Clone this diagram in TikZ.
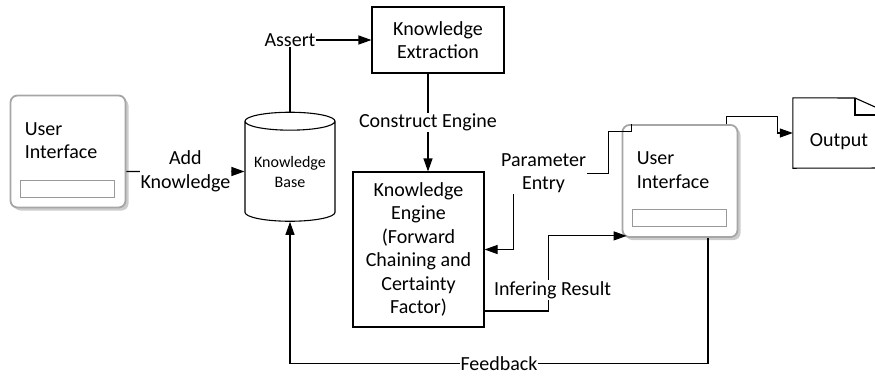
\documentclass[tikz,border=0pt]{standalone}
\usepackage{fontspec}
\setmainfont{Carlito}
\usetikzlibrary{shapes.geometric,shadows,arrows.meta}

\begin{document}
\begin{tikzpicture}[x=1pt,y=-1pt,
  lineDecorate/.style={-{Triangle[length=13pt,width=9pt]},line width=1.1pt},
  plainDecorate/.style={line width=1.1pt},
  boxDecorate/.style={shape=rectangle,draw,line width=1.1pt,align=center,
    font=\fontsize{20}{23.5}\selectfont},
  uiDecorate/.style={shape=rectangle,draw=black!35,line width=1.8pt,
    rounded corners=7pt,fill=white,minimum width=115pt,minimum height=112pt,
    drop shadow={shadow xshift=3pt,shadow yshift=-3pt,fill=black!20,opacity=1}},
  barDecorate/.style={shape=rectangle,draw=black!40,line width=0.8pt,
    minimum width=94pt,minimum height=17pt,inner sep=0pt},
  labelDecorate/.style={fill=white,inner sep=1pt,align=center,
    font=\fontsize{20}{23.5}\selectfont}]
\useasboundingbox (0,0) rectangle (875,376);
%% user interface boxes
\foreach \uiname/\x/\y in {uiL/68/151.5, uiR/680/181}
{
  \node (\uiname) at (\x,\y) [uiDecorate] {};
  \node (\uiname-text) at ([xshift=15pt,yshift=-64pt]\uiname.north west)
    [anchor=base west,align=left,inner sep=0pt,
     font=\fontsize{20}{23.5}\selectfont] {User\\Interface};
  \node (\uiname-bar) at ([xshift=10pt,yshift=-85pt]\uiname.north west)
    [barDecorate,anchor=north west] {};
}
%% knowledge base, extraction and engine
\node (kb) at (290,171.5) [shape=cylinder,shape border rotate=90,draw,
  line width=1.1pt,aspect=0.25,minimum width=90pt,minimum height=109pt,
  align=center,inner sep=0pt,font=\fontsize{16}{20}\selectfont] {Knowledge\\Base};
\node (kx) at (438,40) [boxDecorate,minimum width=132pt,minimum height=66pt]
  {Knowledge\\Extraction};
\node (ke) at (418.5,249.5) [boxDecorate,minimum width=131pt,minimum height=155pt]
  {Knowledge\\Engine\\(Forward\\Chaining and\\Certainty\\Factor)};
%% output document
\node (out) at (843,133) [minimum width=100pt,minimum height=70pt,inner sep=0pt] {};
\draw[plainDecorate] (out.north west) -- (855,98) -- (893,115) -- (893,168)
  -- (out.south west) -- cycle;
\draw[plainDecorate] (855,98) -- (855,115) -- (893,115);
\node (outText) at (839,142) [labelDecorate,fill=none] {Output};
%% edges or lines
\draw[lineDecorate] ([yshift=-20pt]uiL.east) -- node[labelDecorate] {Add\\Knowledge} (kb.west);
\draw[lineDecorate] (kb.north) |- node[labelDecorate,pos=0.5] {Assert} (kx.west);
\draw[lineDecorate] ([xshift=-10pt]kx.south) -- node[labelDecorate] {Construct Engine}
  ([xshift=-10pt]kx.south |- ke.north);
\draw[lineDecorate] ([xshift=10pt]uiR.north west) -- ++(0,7) -- ++(-23,0)
  |- ++(-95,42) node[labelDecorate,xshift=30pt] {Parameter\\Entry} |- (ke.east);
\draw[lineDecorate] ([yshift=-61.5pt]ke.east) -- ++(64,0)
  |- node[labelDecorate,pos=0.14,xshift=4pt] {Infering Result}
  ([xshift=5pt,yshift=2pt]uiR.south west);
\draw[lineDecorate] ([xshift=-12pt]uiR.north east) |- ++(51,-8) |- (out.west);
\draw[lineDecorate] ([xshift=28pt]uiR.south) -- ++(0,126)
  -| node[labelDecorate,pos=0.25] {Feedback} (kb.south);
\end{tikzpicture}
\end{document}
